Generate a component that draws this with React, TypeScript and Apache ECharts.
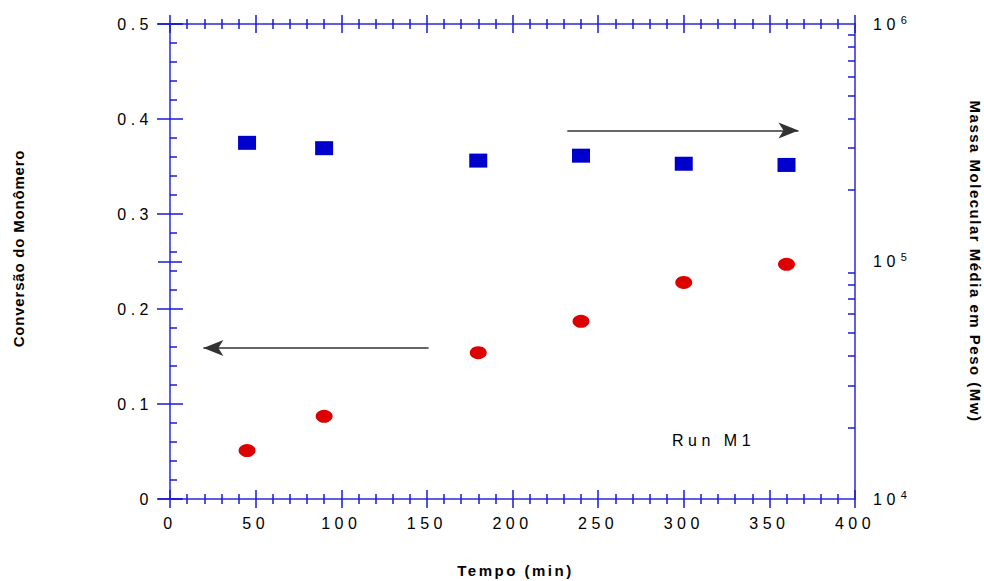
import React, { useEffect, useRef } from 'react';
import * as echarts from 'echarts';

// Data
const timeMin = [45, 90, 180, 240, 300, 360];
const conversion = [0.051, 0.087, 0.154, 0.187, 0.228, 0.247];
const mwValues = [316000, 300000, 266000, 279000, 258000, 255000];

// Axis ticks
const rightMinorTicks = [2e4, 3e4, 4e4, 5e4, 6e4, 7e4, 8e4, 9e4, 2e5, 3e5, 4e5, 5e5, 6e5, 7e5, 8e5, 9e5];
const rightMajorTicks = [1e4, 1e5, 1e6];

// Annotation arrows (data coordinates: tempo, conversão)
const arrowToRight = [[232, 0.388], [367, 0.388]];
const arrowToLeft = [[151, 0.159], [19.5, 0.159]];

const AXIS_LINE = { show: true, lineStyle: { color: '#5f5fe6', width: 2 } };
const TICK_COLOR = '#1a1ad6';

function xAxisDef(position: string, inside: boolean, withLabels: boolean) {
  return {
    type: 'value',
    position,
    min: 0,
    max: 400,
    interval: 50,
    axisLine: AXIS_LINE,
    splitLine: { show: false },
    axisTick: { show: true, inside, length: 9, lineStyle: { color: TICK_COLOR, width: 1.5 } },
    minorTick: { show: true, splitNumber: 5, length: 5, lineStyle: { color: TICK_COLOR, width: 1.5 } },
    axisLabel: withLabels
      ? { show: true, margin: 16, fontSize: 16, fontFamily: 'Liberation Sans', color: '#000' }
      : { show: false },
  } as any;
}

export default function App() {
  const ref = useRef<HTMLDivElement>(null);

  useEffect(() => {
    document.body.style.margin = '0';
    if (!ref.current) return;
    const chart = echarts.init(ref.current, null, { renderer: 'svg' });

    const xAxes = [
      {
        ...xAxisDef('bottom', false, true),
        name: 'Tempo (min)',
        nameLocation: 'middle',
        nameGap: 64,
        nameTextStyle: { fontFamily: 'Helvetica, Arial, sans-serif', fontWeight: 'bold', fontSize: 15, color: '#000', padding: [0, 0, 0, 6] },
      },
      xAxisDef('bottom', true, false),
      xAxisDef('top', false, false),
      xAxisDef('top', true, false),
    ];

    const yAxes: any[] = [
      {
        type: 'value',
        position: 'left',
        min: 0,
        max: 0.5,
        interval: 0.1,
        axisLine: AXIS_LINE,
        splitLine: { show: false },
        axisTick: { show: true, inside: false, length: 13, lineStyle: { color: TICK_COLOR, width: 1.5 } },
        axisLabel: { margin: 17, fontSize: 16, fontFamily: 'Liberation Sans', color: '#000' },
        name: 'Conversão do Monômero',
        nameLocation: 'middle',
        nameGap: 144,
        nameTextStyle: { fontFamily: 'Arial, sans-serif', fontWeight: 'bold', fontSize: 15, color: '#000', padding: [0, 0, 0, 26] },
      },
      {
        type: 'value',
        position: 'left',
        min: 0,
        max: 0.5,
        interval: 0.1,
        axisLine: AXIS_LINE,
        splitLine: { show: false },
        axisTick: { show: true, inside: true, length: 13, lineStyle: { color: TICK_COLOR, width: 1.5 } },
        minorTick: { show: true, splitNumber: 5, length: 7, lineStyle: { color: TICK_COLOR, width: 1.5 } },
        axisLabel: { show: false },
      },
      {
        type: 'log',
        logBase: 10,
        position: 'right',
        min: 1e4,
        max: 1e6,
        axisLine: AXIS_LINE,
        splitLine: { show: false },
        axisTick: { show: true, inside: false, length: 12, customValues: rightMajorTicks, lineStyle: { color: TICK_COLOR, width: 1.5 } },
        axisLabel: {
          margin: 18,
          fontSize: 16,
          fontFamily: 'Liberation Sans',
          color: '#000',
          lineHeight: 20,
          formatter: (v: number) => `10{sup|${Math.round(Math.log10(v))}}`,
          rich: {
            sup: { fontSize: 11, fontFamily: 'Liberation Sans', color: '#000', verticalAlign: 'top', lineHeight: 11, padding: [0, 0, 0, 10] },
          },
        },
        name: 'Massa Molecular Média em Peso (Mw)',
        nameLocation: 'middle',
        nameRotate: -90,
        nameGap: 113,
        nameTextStyle: { fontFamily: 'Nimbus Sans, Arial, sans-serif', fontWeight: 'bold', fontSize: 15, color: '#000' },
      },
      {
        type: 'log',
        logBase: 10,
        position: 'right',
        min: 1e4,
        max: 1e6,
        axisLine: AXIS_LINE,
        splitLine: { show: false },
        axisTick: { show: true, inside: true, length: 12, customValues: rightMajorTicks, lineStyle: { color: TICK_COLOR, width: 1.5 } },
        axisLabel: { show: false },
      },
      {
        type: 'log',
        logBase: 10,
        position: 'right',
        min: 1e4,
        max: 1e6,
        axisLine: AXIS_LINE,
        splitLine: { show: false },
        axisTick: { show: true, inside: true, length: 7, customValues: rightMinorTicks, lineStyle: { color: TICK_COLOR, width: 1.5 } },
        axisLabel: { show: false },
      },
    ];

    const option: any = {
      animation: false,
      backgroundColor: '#fff',
      grid: { left: 170, right: 129, top: 24, bottom: 82, outerBoundsMode: 'none' },
      xAxis: xAxes,
      yAxis: yAxes,
      graphic: [
        {
          type: 'text',
          x: 672,
          y: 440,
          style: {
            text: 'Run M1',
            fontFamily: 'Liberation Sans',
            fontSize: 16,
            fill: '#000',
            verticalAlign: 'middle',
            align: 'left',
          },
        },
      ],
      series: [
        {
          type: 'scatter',
          name: 'Conversão',
          xAxisIndex: 0,
          yAxisIndex: 0,
          symbol: 'circle',
          symbolSize: [17, 13],
          itemStyle: { color: '#dd0000', opacity: 1 },
          data: timeMin.map((t, i) => [t, conversion[i]]),
          markLine: {
            silent: true,
            symbol: ['none', 'arrow'],
            symbolSize: [12, 20],
            label: { show: false },
            lineStyle: { color: '#333', width: 1.5, type: 'solid', opacity: 1 },
            data: [
              [{ coord: arrowToRight[0] }, { coord: arrowToRight[1] }],
              [{ coord: arrowToLeft[0] }, { coord: arrowToLeft[1] }],
            ],
          },
        },
        {
          type: 'scatter',
          name: 'Mw',
          xAxisIndex: 0,
          yAxisIndex: 2,
          symbol: 'rect',
          symbolSize: [18, 14],
          itemStyle: { color: '#0000cc', opacity: 1 },
          data: timeMin.map((t, i) => [t, mwValues[i]]),
        },
      ],
    };

    chart.setOption(option);
    return () => chart.dispose();
  }, []);

  return (
    <>
      <style>{`
        #chartbox text[style*="Arial"], #chartbox text[font-family*="Arial"] { letter-spacing: 0.8px; }
        #chartbox text[style*="Nimbus"], #chartbox text[font-family*="Nimbus"] { letter-spacing: 1.5px; }
        #chartbox text[style*="Helvetica"], #chartbox text[font-family*="Helvetica"] { letter-spacing: 2.5px; }
        #chartbox text[style*="Liberation"], #chartbox text[font-family*="Liberation"] { letter-spacing: 4.5px; }
      `}</style>
      <div
        id="chartbox"
        ref={ref}
        style={{ position: 'absolute', left: 0, top: 0, width: 984, height: 581 }}
      />
    </>
  );
}
